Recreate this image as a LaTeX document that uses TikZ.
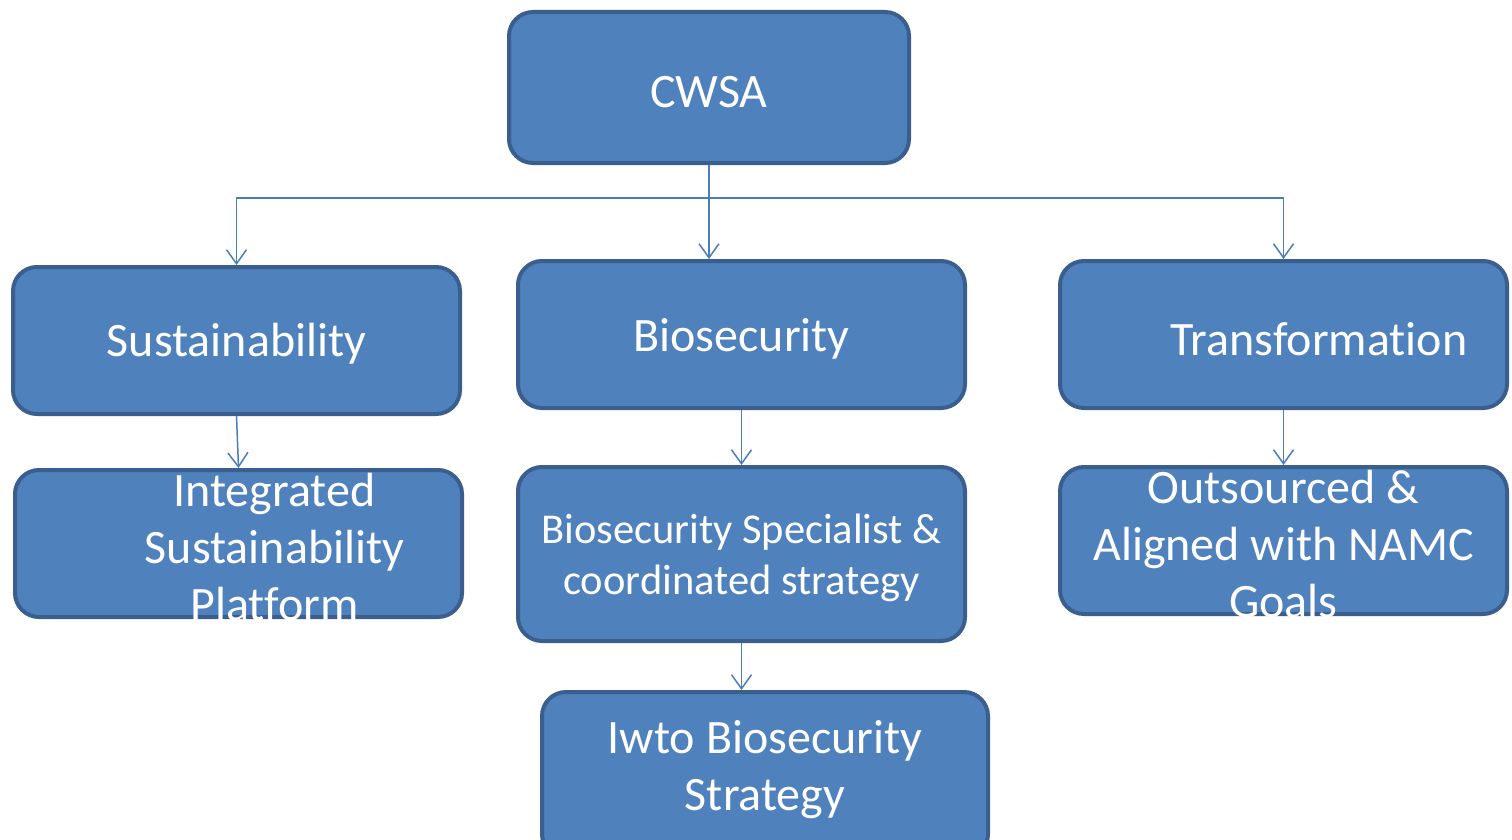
\documentclass[tikz,border=0pt]{standalone}
\usepackage{fontspec}
\setmainfont[Ligatures={NoCommon}]{Carlito}
\usetikzlibrary{arrows.meta}
\definecolor{boxfill}{HTML}{4F81BD}
\definecolor{boxline}{HTML}{3A5F8E}
\definecolor{conn}{HTML}{4A7EBB}
\tikzset{
  box/.style={draw=boxline, fill=boxfill, line width=4pt, rounded corners=24pt, inner sep=0pt},
  lbl/.style={text=white, align=center, inner sep=0pt, font=\fontsize{48}{57}\selectfont},
  lblsmall/.style={text=white, align=center, inner sep=0pt, font=\fontsize{42.5}{51}\selectfont},
  arr/.style={draw=conn, line width=1.5pt, -{Straight Barb[length=14pt,width=20pt,line width=1.5pt]}},
}
\begin{document}
\begin{tikzpicture}[x=1pt,y=-1pt]
\useasboundingbox (0,0) rectangle (1512,840);
\clip (0,0) rectangle (1512,840);
\node[box, minimum width=400pt, minimum height=151pt] (cwsa) at (709,87.5) {};
\node[box, minimum width=447pt, minimum height=147pt] (sus) at (236.5,340.5) {};
\node[box, minimum width=447pt, minimum height=147pt] (bio) at (741.5,334.5) {};
\node[box, minimum width=447pt, minimum height=147pt] (tra) at (1283.5,334.5) {};
\node[box, minimum width=447pt, minimum height=147pt] (int) at (238.5,543.5) {};
\node[box, minimum width=447pt, minimum height=174pt] (spe) at (741.5,554) {};
\node[box, minimum width=447pt, minimum height=147pt] (out) at (1283.5,540.5) {};
\node[box, minimum width=446pt, minimum height=166pt] (iwt) at (765,775) {};

\node[lbl] (tcwsa) at (709,92) {CWSA};
\node[lbl] (tsus) at (236.5,344) {Sustainability};
\node[lbl] (tbio) at (741.5,339) {Biosecurity};
\node[lbl] (ttra) at (1319,339) {Transformation};
\node[lbl] (tint) at (274.5,547) {Integrated\\Sustainability\\Platform};
\node[lblsmall] (tspe) at (741.5,558) {Biosecurity Specialist \&\\coordinated strategy};
\node[lbl] (tout) at (1283.5,544) {Outsourced \&\\Aligned with NAMC\\Goals};
\node[lbl] (tiwt) at (765,770) {Iwto Biosecurity\\Strategy};

\coordinate (bus) at (709,198);
\draw[draw=conn, line width=1.5pt] (cwsa.south) -- (bus);
\draw[arr] (bus) -| (sus.north);
\draw[arr] (bus) -| (tra.north);
\draw[arr] (cwsa.south) -- (cwsa.south |- bio.north);
\draw[arr] (sus.south) -- (int.north);
\draw[arr] (bio.south) -- (spe.north);
\draw[arr] (tra.south) -- (out.north);
\draw[arr] (spe.south) -- (spe.south |- iwt.north);
\end{tikzpicture}
\end{document}
